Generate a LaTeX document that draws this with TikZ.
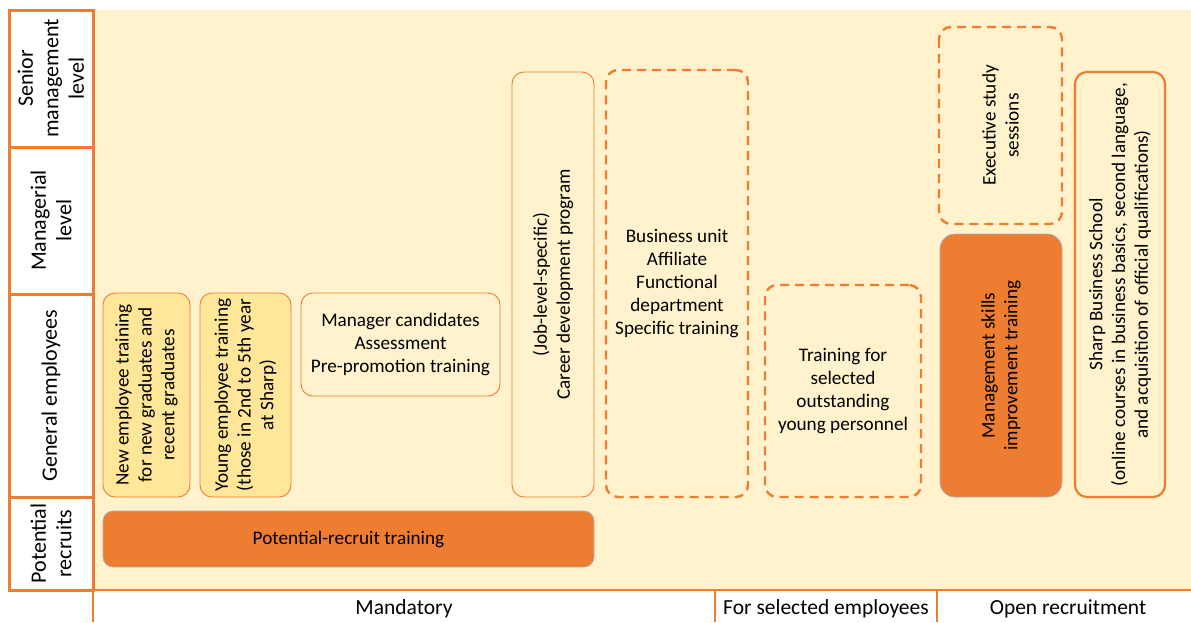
\documentclass[tikz,border=0pt]{standalone}
\usepackage{fontspec}
\setmainfont{Carlito}
\usetikzlibrary{positioning}
\definecolor{sharporange}{HTML}{ED7D31}
\definecolor{paleback}{HTML}{FFF2CC}
\definecolor{youngfill}{HTML}{FFE699}
\definecolor{edgegray}{HTML}{B0B0B0}

\tikzset{
  levelcell/.style={draw=sharporange,line width=3pt,fill=white,minimum width=84pt,inner sep=0pt},
  levellabel/.style={rotate=90,align=center,font=\fontsize{22}{25.5}\selectfont,inner sep=0pt},
  plainbox/.style={draw=sharporange,line width=0.9pt,rounded corners=12pt,
    align=center,font=\fontsize{19.2}{22.8}\selectfont,inner sep=2pt},
  youngbox/.style={plainbox,fill=youngfill},
  dashbox/.style={plainbox,line width=2.4pt,dash pattern=on 9pt off 6pt},
  solidbox/.style={plainbox,fill=sharporange,draw=edgegray,line width=0.8pt},
  groupcap/.style={font=\fontsize{21.5}{24}\selectfont,inner sep=0pt},
}

\begin{document}
\begin{tikzpicture}[x=1pt,y=-1pt]
  \useasboundingbox (0,0) rectangle (1191,622);
  % background of the chart
  \fill[paleback] (93,10) rectangle (1191,590);

  % left column: levels
  \node[levelcell,minimum height=137pt] (senior) at (51,78.5) {};
  \node[levelcell,minimum height=147pt] (manager) at (51,220.5) {};
  \node[levelcell,minimum height=203pt] (general) at (51,395.5) {};
  \node[levelcell,minimum height=93pt] (recruit) at (51,543.5) {};
  \node[levellabel] (seniortext) at (senior) {Senior\\management\\level};
  \node[levellabel] (managertext) at (manager) {Managerial\\level};
  \node[levellabel] (generaltext) at (general) {General employees};
  \node[levellabel] (recruittext) at (recruit) {Potential\\recruits};

  % mandatory programs
  \node[youngbox,rotate=90,minimum width=204pt,minimum height=87pt] (newemp) at (146.5,395)
    {New employee training\\for new graduates and\\recent graduates};
  \node[youngbox,rotate=90,minimum width=204pt,minimum height=91pt] (youngemp) at (245.5,395)
    {Young employee training\\(those in 2nd to 5th year\\at Sharp)};
  \node[plainbox,minimum width=199pt,minimum height=103pt] (candidates) at (400.5,344.5)
    {Manager candidates\\Assessment\\Pre-promotion training};
  \node[plainbox,rotate=90,minimum width=425pt,minimum height=82pt] (career) at (553,284.5)
    {(Job-level-specific)\\Career development program};
  \node[dashbox,minimum width=142pt,minimum height=427pt] (business) at (677,283.5)
    {Business unit\\Affiliate\\Functional\\department\\Specific training};
  \node[solidbox,rounded corners=10pt,minimum width=491pt,minimum height=56pt] (potential) at (348.5,539)
    {Potential-recruit training};

  % for selected employees
  \node[dashbox,minimum width=156pt,minimum height=212pt] (outstanding) at (843,391)
    {Training for\\selected\\outstanding\\young personnel};

  % open recruitment
  \node[dashbox,rotate=90,minimum width=197pt,minimum height=123pt] (executive) at (1000.5,125.5)
    {Executive study\\sessions};
  \node[solidbox,rotate=90,rounded corners=15pt,minimum width=263pt,minimum height=122pt] (mgmtskills) at (1001,365.5)
    {Management skills\\improvement training};
  \node[plainbox,line width=2.2pt,rotate=90,minimum width=425pt,minimum height=90pt] (school) at (1120,284.5)
    {Sharp Business School\\(online courses in business basics, second language,\\and acquisition of official qualifications)};

  % bottom captions
  \draw[sharporange,line width=2.5pt] (93,590) -- (1191,590);
  \draw[sharporange,line width=2.5pt] (93,590) -- (93,622);
  \draw[sharporange,line width=2.5pt] (715,590) -- (715,622);
  \draw[sharporange,line width=2.5pt] (937,590) -- (937,622);
  \node[groupcap] (mandatory) at (404,609) {Mandatory};
  \node[groupcap] (selected) at (826,609) {For selected employees};
  \node[groupcap] (open) at (1068,609) {Open recruitment};
\end{tikzpicture}
\end{document}
